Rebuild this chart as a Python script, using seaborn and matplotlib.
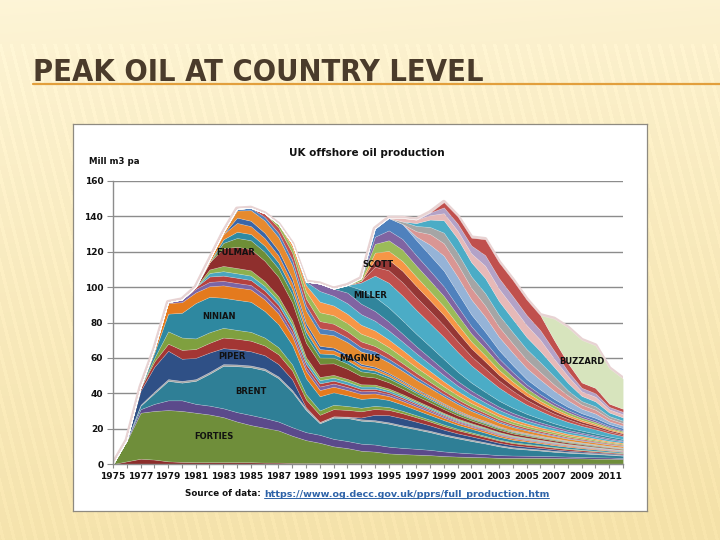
import numpy as np
import matplotlib
matplotlib.use("Agg")
import matplotlib.pyplot as plt
import seaborn as sns
from matplotlib.lines import Line2D
from matplotlib import font_manager as fm

# ---------------- data (Mill m3 per year, 1975-2012) ----------------
years = list(range(1975, 2013))

argyll = [0, 1.5, 3, 2.5, 1.5,
          1.2, 1, 1, 1, 1, 1, 0.8, 0.8, 0.6, 0.5,
          0.5, 0.4, 0.4, 0.4, 0.3, 0.3, 0.3, 0.3, 0.3, 0.3,
          0.3, 0.3, 0.2, 0.2, 0.2, 0.2, 0.2, 0.2, 0.2, 0.2,
          0.2, 0.2, 0.2]
forties = [0, 11.5, 26, 27.5, 29,
           28.8, 28, 27, 25.5, 23, 21, 19.7, 18.2, 15.4, 13,
           11.5, 9.6, 8.6, 7.1, 6.7, 5.7, 5.3, 5.0, 4.7, 4.2,
           3.9, 3.7, 3.6, 3.3, 3.3, 3.3, 3.3, 3.2, 3.1, 3.0,
           2.8, 2.8, 2.6]
montrose = [0, 0.5, 2, 4, 5.5,
            6, 5, 5, 5, 5.3, 5.7, 5.5, 5, 4.8, 4.5,
            4.5, 4.2, 4, 4, 4, 3.8, 3.5, 3.3, 3, 2.6,
            2.3, 2, 1.8, 1.5, 1.3, 1.2, 1.1, 1, 0.9, 0.8,
            0.8, 0.7, 0.6]
brent = [0, 0, 2, 6, 11,
         10, 13, 18, 24, 26, 27, 27, 24.5, 20, 12.5,
         6.5, 12, 13, 13, 13, 13, 12, 11, 10, 9,
         8, 7, 6, 5, 4, 3.5, 3, 2.5, 2.2, 2,
         1.8, 1.5, 1.3]
auk = [0, 0, 0.5, 1, 1,
       1, 1, 1, 1, 1, 1, 1, 1, 1, 1,
       0.8, 0.8, 0.8, 0.8, 0.8, 0.8, 0.8, 0.8, 0.8, 0.8,
       0.8, 0.8, 0.7, 0.7, 0.7, 0.6, 0.6, 0.6, 0.5, 0.5,
       0.5, 0.4, 0.4]
piper = [0, 0, 8, 14, 16,
         12.5, 12, 11, 9, 8.5, 8, 7.5, 7, 6, 0.5,
         0, 0, 0, 1, 3, 4, 4, 3.5, 3, 2.5,
         2, 1.8, 1.5, 1.3, 1.1, 1, 0.9, 0.8, 0.7, 0.6,
         0.5, 0.5, 0.4]
claymore = [0, 0, 1.5, 3, 4,
            5, 5, 5.5, 6, 6, 6, 5.5, 5.5, 5, 4.5,
            4, 4, 3.8, 3.5, 3.3, 3, 2.8, 2.5, 2.2, 2,
            1.8, 1.6, 1.5, 1.3, 1.2, 1.1, 1, 0.9, 0.8, 0.7,
            0.6, 0.5, 0.5]
thistle = [0, 0, 0, 2, 7,
           7, 6, 6, 5.5, 5, 5, 4.5, 4, 3.5, 3,
           2.5, 2.5, 2.2, 2, 1.8, 1.6, 1.4, 1.2, 1, 0.9,
           0.8, 0.7, 0.6, 0.5, 0.5, 0.5, 0.4, 0.4, 0.4, 0.3,
           0.3, 0.3, 0.3]
ninian = [0, 0, 0, 3, 10,
          14, 20, 20, 17, 17, 17, 15, 13, 11, 9,
          8, 7, 6, 5, 4.5, 4, 3.5, 3, 2.7, 2.5,
          2.2, 2, 1.8, 1.6, 1.4, 1.3, 1.2, 1, 0.9, 0.8,
          0.7, 0.6, 0.5]
murchison = [0, 0, 0, 1, 6,
             6, 6, 6, 7, 7, 7, 6.5, 6, 5, 4,
             3.5, 3.2, 3, 2.8, 2.5, 2.2, 2, 1.8, 1.6, 1.4,
             1.2, 1.1, 1, 0.9, 0.8, 0.7, 0.6, 0.6, 0.5, 0.5,
             0.4, 0.4, 0.3]
beryl = [0, 0, 0.5, 1, 0.5,
         1.5, 2, 2.5, 2.5, 2.5, 2.5, 2.5, 2.5, 2.3, 2,
         2, 1.8, 1.7, 1.5, 1.4, 1.2, 1.1, 1, 0.9, 0.8,
         0.7, 0.6, 0.6, 0.5, 0.5, 0.4, 0.4, 0.4, 0.3, 0.3,
         0.3, 0.3, 0.3]
dunlin = [0, 0, 0, 0, 0,
          0, 1, 3, 3, 3, 2.8, 2.6, 2.4, 2.2, 2,
          1.8, 1.6, 1.5, 1.3, 1.2, 1, 0.9, 0.8, 0.7, 0.6,
          0.5, 0.5, 0.4, 0.4, 0.4, 0.3, 0.3, 0.3, 0.3, 0.2,
          0.2, 0.2, 0.2]
cormorant = [0, 0, 0, 0, 0,
             0, 0, 2, 2.5, 2.5, 2.5, 2.5, 2.3, 2.2, 2,
             1.8, 1.7, 1.6, 1.4, 1.3, 1.1, 1, 0.9, 0.8, 0.7,
             0.6, 0.5, 0.5, 0.5, 0.4, 0.4, 0.4, 0.3, 0.3, 0.3,
             0.3, 0.2, 0.2]
tartan = [0, 0, 0, 0, 0,
          0, 0, 2, 3, 3, 3, 2.8, 2.6, 2.3, 2,
          1.8, 1.6, 1.5, 1.3, 1.1, 1, 0.9, 0.8, 0.7, 0.6,
          0.6, 0.5, 0.5, 0.4, 0.4, 0.4, 0.3, 0.3, 0.3, 0.3,
          0.2, 0.2, 0.2]
fulmar = [0, 0, 0, 0, 0,
          0, 0, 4, 10, 12, 12, 11.5, 11, 10, 8,
          7.5, 6.5, 5.7, 4.6, 4, 3.5, 3, 2.6, 2.4, 2.1,
          1.8, 1.5, 1.4, 1.3, 1.1, 1, 0.9, 0.8, 0.7, 0.6,
          0.5, 0.5, 0.4]
brae = [0, 0, 0, 0, 0,
        0, 0, 0, 3, 5, 5, 5, 4.8, 4.5, 3.8,
        3.5, 3.2, 3, 2.7, 2.5, 2.2, 2, 1.7, 1.5, 1.4,
        1.2, 1, 0.9, 0.8, 0.7, 0.6, 0.5, 0.5, 0.4, 0.4,
        0.4, 0.3, 0.3]
maureen = [0, 0, 0, 0, 0,
           0, 0, 0, 2, 3.5, 3.5, 3.5, 3.3, 3, 2.5,
           2.3, 2, 1.8, 1.6, 1.4, 1.2, 1, 0.9, 0.8, 0.7,
           0.6, 0.5, 0.5, 0.5, 0.4, 0.4, 0.3, 0.3, 0.3, 0.3,
           0.3, 0.2, 0.2]
heather = [0, 0, 0, 0, 0,
           0, 0, 1.5, 3, 5, 4.5, 4.3, 4, 3.5, 2.8,
           2.5, 2.2, 2, 1.6, 1.3, 1.1, 1, 0.9, 0.8, 0.7,
           0.6, 0.5, 0.4, 0.4, 0.4, 0.3, 0.3, 0.3, 0.3, 0.2,
           0.2, 0.2, 0.2]
hutton = [0, 0, 0, 0, 0,
          0, 0, 0, 0, 3, 3, 3, 2.8, 2.6, 2,
          1.8, 1.5, 1.3, 1, 0.9, 0.8, 0.7, 0.6, 0.6, 0.5,
          0.5, 0.4, 0.4, 0.3, 0.3, 0.3, 0.3, 0.2, 0.2, 0.2,
          0.2, 0.2, 0.2]
magnus = [0, 0, 0, 0, 0,
          0, 0, 0, 1, 4, 6, 7, 7.5, 7.5, 7,
          7, 7, 7, 7, 6.5, 6, 5.5, 5, 4.5, 4,
          3.5, 3, 2.5, 2, 1.8, 1.5, 1.3, 1.2, 1, 1,
          0.9, 0.8, 0.8]
balmoral = [0, 0, 0, 0, 0,
            0, 0, 0, 0, 1, 1.3, 2, 2.5, 3, 3,
            3, 2.8, 2.6, 2.4, 2.2, 2, 1.8, 1.6, 1.4, 1.2,
            1.1, 1, 0.9, 0.8, 0.7, 0.6, 0.5, 0.5, 0.4, 0.4,
            0.4, 0.3, 0.3]
clyde = [0, 0, 0, 0, 0,
         0, 0, 0, 0, 0, 0, 2, 3, 4, 4,
         4, 3.7, 3.5, 3.3, 3, 2.8, 2.5, 2.3, 2, 1.8,
         1.6, 1.4, 1.2, 1.1, 1, 0.9, 0.8, 0.7, 0.6, 0.6,
         0.5, 0.5, 0.4]
tern = [0, 0, 0, 0, 0,
        0, 0, 0, 0, 0, 0, 0, 2, 3, 4,
        5, 4.8, 4.6, 4.4, 4.1, 3.8, 3.5, 3.2, 2.9, 2.6,
        2.3, 2, 1.8, 1.6, 1.4, 1.2, 1.1, 1, 0.9, 0.8,
        0.7, 0.6, 0.6]
eider = [0, 0, 0, 0, 0,
         0, 0, 0, 0, 0, 0, 0, 0, 2.2, 3.5,
         6, 5.5, 5.3, 5, 4.7, 4.3, 4, 3.6, 3.2, 2.8,
         2.4, 2.1, 1.8, 1.6, 1.4, 1.3, 1.1, 1, 0.9, 0.8,
         0.7, 0.6, 0.6]
alwyn = [0, 0, 0, 0, 0,
         0, 0, 0, 0, 0, 0, 0, 0, 0, 2,
         6, 5.5, 6, 6, 5.5, 5.1, 4.7, 4.3, 3.9, 3.5,
         3, 2.7, 2.3, 2.1, 1.9, 1.6, 1.5, 1.3, 1.2, 1.1,
         1, 0.9, 0.8]
ivanhoe = [0, 0, 0, 0, 0,
           0, 0, 0, 0, 0, 0, 0, 0, 0, 0,
           4.2, 4, 6, 5.9, 5.5, 5, 4.5, 4, 3.6, 3.1,
           2.6, 2.3, 2, 1.8, 1.6, 1.4, 1.3, 1, 1, 0.8,
           0.7, 0.7, 0.5]
miller = [0, 0, 0, 0, 0,
          0, 0, 0, 0, 0, 0, 0, 0, 0, 0,
          0, 0, 4.2, 8, 8, 8, 7.5, 7, 6.5, 6,
          5.3, 4.5, 4, 3.4, 2.9, 2.4, 2, 1.7, 1.4, 1.2,
          1.1, 0.9, 0.8]
scott = [0, 0, 0, 0, 0,
         0, 0, 0, 0, 0, 0, 0, 0, 0, 0,
         0, 0, 0, 4, 12, 14, 14, 13.5, 13, 12.5,
         11.2, 9.7, 8.6, 7.4, 6.3, 5.2, 4.4, 3.6, 3.1, 2.6,
         2.4, 1.9, 1.7]
nelson = [0, 0, 0, 0, 0,
          0, 0, 0, 0, 0, 0, 0, 0, 0, 0,
          0, 0, 0, 1, 5, 7, 7.5, 7.2, 7, 6.6,
          6, 5.2, 4.6, 3.9, 3.3, 2.7, 2.2, 1.9, 1.6, 1.3,
          1.2, 1, 0.8]
andrew = [0, 0, 0, 0, 0,
          0, 0, 0, 0, 0, 0, 0, 0, 0, 0,
          0, 0, 0, 0, 4, 6, 6.5, 6.3, 6, 5.8,
          5.2, 4.5, 4, 3.3, 2.8, 2.3, 1.9, 1.6, 1.4, 1.2,
          1, 0.8, 0.7]
alba = [0, 0, 0, 0, 0,
        0, 0, 0, 0, 0, 0, 0, 0, 0, 0,
        0, 0, 0, 0, 4, 5, 5.5, 5.3, 5.1, 4.9,
        4.4, 3.8, 3.4, 2.8, 2.4, 2, 1.6, 1.4, 1.1, 1,
        0.9, 0.7, 0.6]
bruce = [0, 0, 0, 0, 0,
         0, 0, 0, 0, 0, 0, 0, 0, 0, 0,
         0, 0, 0, 1.4, 5, 6, 6.5, 6.3, 6.1, 5.9,
         5.3, 4.5, 4, 3.4, 2.8, 2.3, 1.9, 1.6, 1.4, 1.2,
         1, 0.8, 0.7]
harding = [0, 0, 0, 0, 0,
           0, 0, 0, 0, 0, 0, 0, 0, 0, 0,
           0, 0, 0, 0, 4, 5.6, 6, 5.8, 5.6, 5.4,
           4.8, 4.2, 3.7, 3.1, 2.6, 2.1, 1.8, 1.5, 1.2, 1,
           0.9, 0.7, 0.6]
gannet = [0, 0, 0, 0, 0,
          0, 0, 0, 0, 0, 0, 0, 0, 0, 0,
          0, 0, 0, 0, 4.6, 7, 8.5, 8.6, 8.7, 8.9,
          7.8, 6.6, 5.7, 4.7, 3.9, 3, 2.7, 2.2, 1.8, 1.5,
          1.5, 1.2, 1.1]
schiehallion = [0, 0, 0, 0, 0,
                0, 0, 0, 0, 0, 0, 0, 0, 0, 0,
                0, 0, 0, 0, 0, 0, 0, 2, 6, 8.5,
                9, 8.5, 8.5, 7.5, 7, 6.3, 5.6, 4.6, 3.7, 2.6,
                2.4, 1.5, 1.4]
foinaven = [0, 0, 0, 0, 0,
            0, 0, 0, 0, 0, 0, 0, 0, 0, 0,
            0, 0, 0, 0, 0, 0, 0, 3, 6, 7,
            7, 6.5, 6.3, 5.7, 5.2, 4.7, 4.2, 3.5, 2.8, 2.3,
            2.2, 1.6, 1.4]
elgin = [0, 0, 0, 0, 0,
         0, 0, 0, 0, 0, 0, 0, 0, 0, 0,
         0, 0, 0, 0, 0, 0, 1.4, 3, 4, 6,
         6.5, 6.5, 7, 6.7, 6.4, 6, 5.6, 4.7, 2.8, 2.0,
         1.9, 1.4, 1.4]
captain = [0, 0, 0, 0, 0,
           0, 0, 0, 0, 0, 0, 0, 0, 0, 0,
           0, 0, 0, 0, 0, 0, 0, 1.6, 4.2, 7,
           8, 8, 8.5, 7.8, 7.4, 6.8, 6.3, 5.3, 4.3, 2.9,
           2.8, 2.0, 1.8]
clair = [0, 0, 0, 0, 0,
         0, 0, 0, 0, 0, 0, 0, 0, 0, 0,
         0, 0, 0, 0, 0, 0, 2, 2, 2.5, 4,
         4.5, 5, 7, 7, 7, 6.8, 6.4, 4.6, 3.8, 2.6,
         2.6, 1.8, 1.8]
mallard = [0, 0, 0, 0, 0,
           0, 0, 0, 0, 0, 0, 0, 0, 0, 0,
           0, 0, 0, 0, 0, 0, 0, 0, 1.5, 3.3,
           4, 4.5, 6, 6, 6, 5.7, 5.4, 4.6, 2.8, 2.0,
           2.0, 1.4, 1.4]
goldeneye = [0, 0, 0, 0, 0,
             0, 0, 0, 0, 0, 0, 0, 0, 0, 0,
             0, 0, 0, 0, 0, 0, 0, 0, 0, 3,
             4.2, 4.5, 9, 9, 9.2, 8.8, 8.5, 6.0, 4.6, 3.0,
             3.0, 1.8, 1.7]
buzzard = [0, 0, 0, 0, 0,
           0, 0, 0, 0, 0, 0, 0, 0, 0, 0,
           0, 0, 0, 0, 0, 0, 0, 0, 0, 0,
           0, 0, 0, 0, 0, 0, 0, 12, 20, 24,
           24, 20, 17]

# stacking order (bottom to top) and colours
series = [argyll, forties, montrose, brent, auk, piper, claymore, thistle,
          ninian, murchison, beryl, dunlin, cormorant, tartan, fulmar, brae,
          maureen, heather, hutton, magnus, balmoral, clyde, tern, eider,
          alwyn, ivanhoe, miller, scott, nelson, andrew, alba, bruce,
          harding, gannet, schiehallion, foinaven, elgin, captain, clair,
          mallard, goldeneye, buzzard]
colors = ["#8C2D2B", "#6F8E3A", "#5B4A8B", "#2F7F96", "#A6A6A6", "#2F5086",
          "#A33634", "#7FA03F", "#2E88A0", "#E47A1E", "#7A65A6", "#B5413F",
          "#4AA5BF", "#8DB04E", "#8F2F2D", "#6E8E37", "#2F8AA3", "#E8842A",
          "#3A66A8", "#E68A2E", "#4F81BD", "#C0504D", "#9BBB59", "#F79646",
          "#4BACC6", "#8064A2", "#31859C", "#4BACC6", "#C0504D", "#953735",
          "#F79646", "#9BBB59", "#8064A2", "#4F81BD", "#95B3D7", "#D99694",
          "#A5A5A5", "#4BACC6", "#E6B9B8", "#B3A2C7", "#C0504D", "#D7E4BD"]

field_labels = ["FORTIES", "BRENT", "PIPER", "NINIAN", "FULMAR",
                "MAGNUS", "MILLER", "SCOTT", "BUZZARD"]
label_x = [1982.3, 1985.0, 1983.6, 1982.7, 1983.9, 1992.9, 1993.65, 1994.2, 2009.0]
label_y = [15.3, 41.2, 61.0, 83.6, 119.8, 59.9, 95.5, 113.0, 58.2]

y_ticks = [0, 20, 40, 60, 80, 100, 120, 140, 160]
x_tick_labels = [str(y) if (y - 1975) % 2 == 0 else "" for y in years]

# ---------------- figure ----------------
sns.set_theme(style="white")
plt.rcParams['font.family'] = ['DejaVu Sans']

W, H = 720, 540
fig = plt.figure(figsize=(7.2, 5.4), dpi=100)

def fx(px):
    return px / W

def fy(py):
    return 1 - py / H

# slide background gradient with faint stripes
bg = fig.add_axes([0, 0, 1, 1], zorder=-10)
hh, ww = 540, 720
yy = np.linspace(0, 1, hh)[:, None]
xx = np.linspace(0, 1, ww)[None, :]
top_c = np.array([254, 246, 218]) / 255.0
bot_c = np.array([244, 225, 168]) / 255.0
t = np.clip(0.05 + 0.85 * yy ** 0.8 + 0.12 * xx, 0, 1)[..., None]
img = top_c * (1 - t) + bot_c * t
phase = (xx * ww + (1 - yy) * hh * 0.25) * 2 * np.pi / 11.0
stripe = (np.sin(phase) > 0.55).astype(float) * (yy > 0.08)
img = np.clip(img + 0.018 * stripe[..., None], 0, 1)
bg.imshow(img, aspect='auto', extent=[0, 1, 0, 1], origin='upper')
bg.set_xlim(0, 1)
bg.set_ylim(0, 1)
bg.axis('off')

# title
available = {f.name for f in fm.fontManager.ttflist}
tfam = 'Liberation Sans Narrow' if 'Liberation Sans Narrow' in available else 'DejaVu Sans'
stretch = 'normal'
if tfam == 'DejaVu Sans' and any(f.name == 'DejaVu Sans' and str(f.stretch) in ('condensed', 'semi-condensed', '75', '87')
                                  for f in fm.fontManager.ttflist):
    stretch = 'condensed'
title = fig.text(fx(33), fy(81), "PEAK OIL AT COUNTRY LEVEL", fontsize=24,
                 color='#4A3B2B', family=[tfam, 'DejaVu Sans'], fontstretch=stretch,
                 fontweight='bold', va='baseline', ha='left')
fig.add_artist(Line2D([fx(33), 1.0], [fy(84), fy(84)], transform=fig.transFigure,
                      color='#E29F3C', lw=1.6))

# white picture frame
box = fig.add_axes([fx(73), fy(511), (647 - 73) / W, (511 - 124) / H], zorder=1)
box.set_facecolor('white')
box.set_xticks([])
box.set_yticks([])
for s in box.spines.values():
    s.set_color('#8E8A80')
    s.set_linewidth(0.9)

# chart axes
ax = fig.add_axes([fx(113), fy(464), (623 - 113) / W, (464 - 181) / H], zorder=2)
ax.patch.set_alpha(0)
total = np.sum(np.array(series), axis=0)
ax.plot(years, total, color='#E8D3D3', lw=3.2, zorder=1.5, solid_joinstyle='round')
ax.stackplot(years, *series, colors=colors, edgecolor=(1, 1, 1, 0.28),
             linewidth=0.4, zorder=2)

ax.set_xlim(1975, 2012)
ax.set_ylim(0, 160)
ax.set_yticks(y_ticks)
ax.set_xticks(years)
ax.set_xticklabels(x_tick_labels)
ax.yaxis.grid(True, color='#8C8C8C', lw=1.0)
ax.xaxis.grid(False)
ax.set_axisbelow(True)
for side in ('top', 'right'):
    ax.spines[side].set_visible(False)
for side in ('left', 'bottom'):
    ax.spines[side].set_color('#8C8C8C')
    ax.spines[side].set_linewidth(1.0)
ax.tick_params(axis='y', left=True, length=4, width=0.8, color='#8C8C8C', pad=3,
               labelsize=6.5, labelcolor='#111111', direction='out')
ax.tick_params(axis='x', bottom=True, length=3, width=0.8, color='#8C8C8C', pad=3,
               labelsize=6.5, labelcolor='#111111', direction='out')
for lab in ax.get_xticklabels() + ax.get_yticklabels():
    lab.set_fontweight('bold')

for name, lx, ly in zip(field_labels, label_x, label_y):
    ax.text(lx, ly, name, ha='center', va='center', fontsize=6, fontweight='bold',
            color='#111111', zorder=6)

# chart texts
fig.text(fx(367), fy(153), "UK offshore oil production", ha='center', va='center',
         fontsize=7.5, fontweight='bold', color='#111111', zorder=5)
fig.text(fx(89), fy(161), "Mill m3 pa", ha='left', va='center',
         fontsize=6.2, fontweight='bold', color='#111111', zorder=5)
src1 = fig.text(fx(185), fy(494), "Source of data: ", ha='left', va='center',
                fontsize=6.3, fontweight='bold', color='#111111', zorder=5)

fig.canvas.draw()
rend = fig.canvas.get_renderer()
# fit title width to the reference (about 450 px)
wt = title.get_window_extent(rend).width
title.set_fontsize(24 * 450.0 / wt)

b1 = src1.get_window_extent(rend)
src2 = fig.text(b1.x1 / W, fy(494), "https://www.og.decc.gov.uk/pprs/full_production.htm",
                ha='left', va='center', fontsize=6.8, fontweight='bold', color='#2E63A8', zorder=5)
fig.canvas.draw()
b2 = src2.get_window_extent(rend)
fig.add_artist(Line2D([b2.x0 / W, b2.x1 / W], [(b2.y0 + 1) / H, (b2.y0 + 1) / H],
                      transform=fig.transFigure, color='#2E63A8', lw=0.7, zorder=5))

fig.savefig('out.png', dpi=100)
